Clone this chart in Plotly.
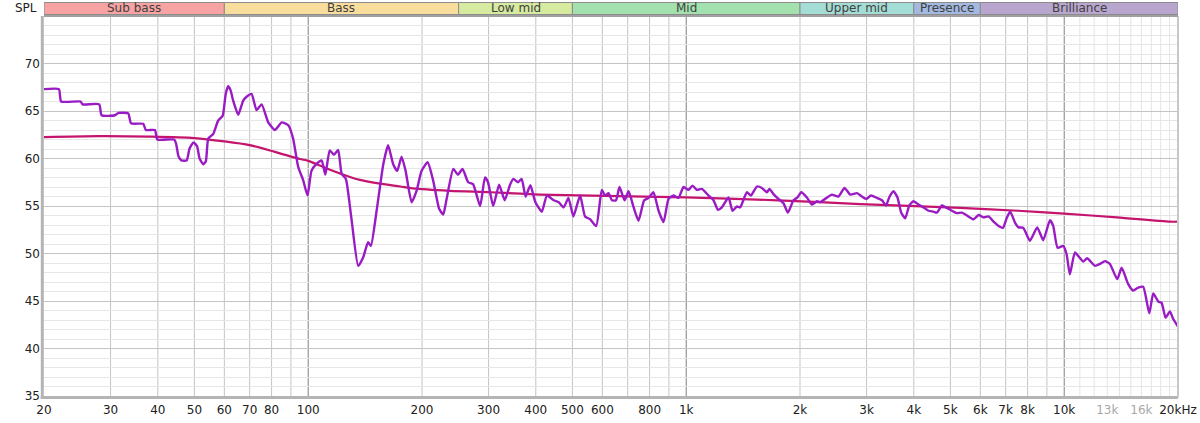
import numpy as np
import plotly.graph_objects as go

# ---------------- data ----------------
# measured response (purple)
resp_freq = (
    [20, 21.9, 22.2, 25.0, 25.3, 28.0, 28.4, 30.8, 31.5, 33.4, 34.0, 36.6, 37.2, 39.3, 39.9, 44.2]
    + [44.7, 45.4, 46.2, 47.7, 48.5, 49.7, 50.8, 51.6, 52.8, 53.6, 54.4, 56.1, 57.8, 59.4, 60.5, 61.4]
    + [62.3, 63.3, 65.3, 67.3, 68.7, 70.8, 73.0, 75.3, 78.4, 81.6, 85.1, 88.6, 91.2, 94.1, 97.0, 99.6]
    + [102, 105, 108.5, 111, 114, 117, 120, 122.6, 125.8, 130, 135.6, 139.8, 144, 146.5, 151.7, 158]
    + [162.7, 167.8, 172, 176.6, 181, 187.7, 193.5, 199.5, 207, 214, 222, 227.6, 232, 242, 249, 256]
    + [265, 273, 285, 293.5, 299, 308.6, 320, 331, 342, 349, 359, 367, 376, 387, 399, 415]
    + [428, 446, 460, 474, 488, 503, 524, 540, 557, 578, 598, 610, 623, 636, 652, 666]
    + [687, 704, 726, 748, 774, 795, 819, 845, 871, 898, 926, 954, 984, 1014, 1039, 1067]
    + [1100, 1146, 1181, 1213, 1243, 1294, 1326, 1362, 1389, 1447, 1483, 1538, 1586, 1635, 1661, 1702]
    + [1754, 1809, 1858, 1922, 1970, 2015, 2086, 2151, 2218, 2262, 2332, 2429, 2528, 2623, 2716, 2829]
    + [2917, 2995, 3082, 3196, 3295, 3377, 3443, 3535, 3622, 3706, 3797, 3891, 3994, 4118, 4245, 4375]
    + [4510, 4604, 4747, 4894, 5045, 5200, 5363, 5529, 5756, 5934, 6117, 6306, 6502, 6703, 6884, 7054]
    + [7197, 7420, 7570, 7790, 8114, 8485, 8800, 9167, 9352, 9605, 9940, 10150, 10350, 10670, 10960, 11230]
    + [11500, 12060, 12430, 12820, 13210, 13810, 14190, 14760, 15220, 15690, 16180, 16790, 17200, 17730,
       18100, 18540, 19040, 19430, 20000]
)
resp_db = (
    [67.3, 67.3, 66.0, 66.0, 65.7, 65.7, 64.55, 64.55, 64.8, 64.75, 63.7, 63.65, 63.0, 63.0, 62.0, 62.0]
    + [61.6, 60.2, 59.8, 59.8, 61.0, 61.7, 61.3, 60.0, 59.4, 59.7, 62.1, 62.6, 64.0, 64.5, 66.8, 67.6]
    + [67.2, 66.1, 64.6, 66.1, 66.5, 66.8, 65.1, 65.7, 63.8, 63.0, 63.8, 63.5, 62.1, 59.1, 57.7, 56.1]
    + [58.7, 59.4, 59.8, 58.3, 60.85, 60.4, 60.9, 58.4, 57.85, 53.8, 48.7, 49.6, 51.2, 50.8, 54.5, 59.4]
    + [61.4, 59.4, 58.7, 60.2, 58.7, 55.4, 56.6, 58.7, 59.6, 57.7, 54.7, 54.1, 55.6, 58.9, 58.3, 58.9]
    + [57.5, 57.3, 55.0, 58.0, 57.5, 55.0, 57.25, 55.6, 57.25, 57.85, 57.5, 57.85, 56.0, 57.2, 55.4, 54.4]
    + [56.1, 55.6, 55.4, 54.85, 55.85, 53.9, 56.1, 53.9, 53.6, 52.9, 56.7, 56.1, 56.35, 55.6, 55.6, 57.0]
    + [55.6, 56.55, 54.85, 53.45, 55.6, 55.85, 56.45, 54.5, 53.3, 55.75, 56.1, 55.85, 57.0, 56.7, 57.15, 56.7]
    + [56.8, 56.1, 55.6, 54.6, 54.85, 55.9, 54.5, 54.95, 54.85, 56.45, 56.1, 57.05, 56.9, 56.45, 56.8, 56.25]
    + [55.75, 55.3, 54.3, 55.6, 55.9, 56.45, 55.9, 55.15, 55.5, 55.4, 55.75, 56.2, 56.0, 56.9, 56.2, 56.35]
    + [56.0, 55.75, 56.1, 55.85, 55.6, 55.05, 55.9, 56.55, 55.9, 54.3, 53.7, 55.05, 55.5, 55.15, 54.85, 54.5]
    + [54.4, 54.3, 55.05, 54.8, 54.5, 54.25, 54.3, 54.0, 53.6, 54.05, 53.8, 53.9, 53.35, 52.9, 52.7, 53.8]
    + [54.4, 53.2, 52.75, 52.7, 51.35, 52.75, 51.4, 53.5, 52.9, 50.6, 50.8, 49.9, 47.8, 50.1, 49.6, 49.15]
    + [49.5, 48.7, 48.9, 49.2, 48.9, 47.3, 48.5, 46.8, 46.1, 46.4, 46.5, 43.7, 45.8, 44.95,
       44.8, 43.25, 43.9, 43.1, 42.3]
)

# smooth target / trend curve (crimson)
trend_freq = [20, 28, 38, 50, 60, 70, 81.6, 95, 100, 112, 129, 137, 155, 175, 189, 237, 304, 364, 410,
              1000, 1750, 2886, 5308, 7556, 10000, 13786, 19040, 20000]
trend_db = [62.25, 62.35, 62.3, 62.15, 61.8, 61.4, 60.7, 59.95, 59.75, 58.95, 58.05, 57.75, 57.35, 57.05,
            56.85, 56.6, 56.45, 56.3, 56.2, 55.9, 55.6, 55.2, 54.8, 54.5, 54.2, 53.8, 53.35, 53.35]

# frequency bands
band_names = ["Sub bass", "Bass", "Low mid", "Mid", "Upper mid", "Presence", "Brilliance"]
band_edges = [20, 60, 250, 500, 2000, 4000, 6000, 20000]
band_colors = ["#F8A3A3", "#F8DD9D", "#D6EAA0", "#A3E2AE", "#A3DDD5", "#A3B9E0", "#B9A6CE"]

# axis ticks
x_tickvals = [20, 30, 40, 50, 60, 70, 80, 100, 200, 300, 400, 500, 600, 800, 1000, 2000, 3000, 4000,
              5000, 6000, 7000, 8000, 10000, 13000, 16000, 20000]
x_ticktext = ["20", "30", "40", "50", "60", "70", "80", "100", "200", "300", "400", "500", "600", "800",
              "1k", "2k", "3k", "4k", "5k", "6k", "7k", "8k", "10k",
              "<span style='color:#A8A8A8'>13k</span>", "<span style='color:#A8A8A8'>16k</span>", "20kHz"]
y_tickvals = [35, 40, 45, 50, 55, 60, 65, 70]

grid_mid = [30, 40, 50, 60, 70, 80, 90, 200, 300, 400, 500, 600, 700, 800, 900,
            2000, 3000, 4000, 5000, 6000, 7000, 8000, 9000]
grid_major = [100, 1000, 10000]
grid_light = [11000, 12000, 13000, 14000, 15000, 16000, 17000, 18000, 19000]

# ---------------- figure ----------------
n = min(len(resp_freq), len(resp_db))
fig = go.Figure()
fig.add_trace(go.Scatter(x=trend_freq, y=trend_db, mode="lines",
                         line=dict(color="#C4146E", width=2.2, shape="spline", smoothing=0.8),
                         hoverinfo="skip", showlegend=False))
fig.add_trace(go.Scatter(x=resp_freq[:n], y=resp_db[:n], mode="lines",
                         line=dict(color="#9A1BC4", width=2.4, shape="spline", smoothing=0.5),
                         hoverinfo="skip", showlegend=False))

shapes = []
for f in grid_light:
    shapes.append(dict(type="line", xref="x", yref="paper", x0=f, x1=f, y0=0, y1=1,
                       line=dict(color="#E4E4E4", width=1), layer="below"))
for f in grid_mid:
    shapes.append(dict(type="line", xref="x", yref="paper", x0=f, x1=f, y0=0, y1=1,
                       line=dict(color="#C4C4C4", width=1), layer="below"))
for f in grid_major:
    shapes.append(dict(type="line", xref="x", yref="paper", x0=f, x1=f, y0=0, y1=1,
                       line=dict(color="#808080", width=1), layer="below"))

# frame (bevel look)
shapes.append(dict(type="line", xref="paper", yref="paper", x0=-0.0015, x1=-0.0015, y0=-0.005, y1=1.0,
                   line=dict(color="#B4B4B4", width=3), layer="above"))
shapes.append(dict(type="line", xref="paper", yref="paper", x0=-0.003, x1=1.0, y0=-0.004, y1=-0.004,
                   line=dict(color="#B4B4B4", width=3), layer="above"))
shapes.append(dict(type="line", xref="paper", yref="paper", x0=1.0, x1=1.0, y0=-0.004, y1=1.0,
                   line=dict(color="#C8C8C8", width=2), layer="above"))
shapes.append(dict(type="line", xref="paper", yref="paper", x0=0, x1=1.0, y0=1.0, y1=1.0,
                   line=dict(color="#A0A0A0", width=2), layer="above"))

# band bar
plot_h = 423 - 16 - 27
b_y0 = 1 + 1.5 / plot_h
b_y1 = 1 + 13.5 / plot_h
annotations = []
for name, c, f0, f1 in zip(band_names, band_colors, band_edges[:-1], band_edges[1:]):
    shapes.append(dict(type="rect", xref="x", yref="paper", x0=f0, x1=f1, y0=b_y0, y1=b_y1,
                       fillcolor=c, line=dict(color="#8C8C8C", width=1), layer="above"))
    annotations.append(dict(x=np.log10(np.sqrt(f0 * f1)), xref="x", y=(b_y0 + b_y1) / 2, yref="paper",
                            text=name, showarrow=False, xanchor="center", yanchor="middle",
                            font=dict(family="DejaVu Sans", size=12, color="#404040")))
annotations.append(dict(x=0, xref="paper", y=(b_y0 + b_y1) / 2, yref="paper", text="SPL",
                        showarrow=False, xanchor="right", yanchor="middle", xshift=-5,
                        font=dict(family="DejaVu Sans", size=12, color="#202020")))

fig.update_layout(
    width=1200, height=423,
    margin=dict(l=44, r=22, t=16, b=27),
    paper_bgcolor="white", plot_bgcolor="white",
    shapes=shapes, annotations=annotations,
    font=dict(family="DejaVu Sans", size=12, color="#202020"),
    xaxis=dict(type="log", range=[np.log10(20), np.log10(20000)], showgrid=False, zeroline=False,
               tickmode="array", tickvals=x_tickvals, ticktext=x_ticktext, ticks="",
               showline=False, automargin=False, ticklabelstandoff=5,
               tickfont=dict(size=12, color="#202020")),
    yaxis=dict(range=[35, 75], tickmode="array", tickvals=y_tickvals, showgrid=True,
               gridcolor="#C4C4C4", gridwidth=1, zeroline=False, ticks="", showline=False,
               automargin=False, ticklabelstandoff=3,
               minor=dict(dtick=1, showgrid=True, gridcolor="#E6E6E6", gridwidth=1),
               tickfont=dict(size=12, color="#202020")),
)

fig.write_html("out.html", config={"displayModeBar": False},
               post_script="document.body.style.margin='0px';")
